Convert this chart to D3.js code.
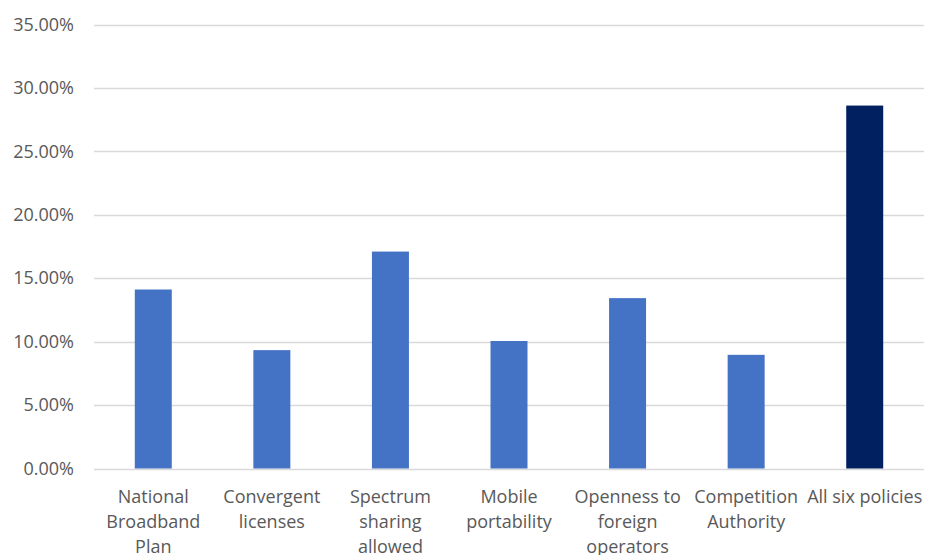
<!DOCTYPE html>
<html>
<head>
<meta charset="utf-8">
<script src="https://cdn.jsdelivr.net/npm/d3@7"></script>
<style>
  html, body { margin: 0; padding: 0; background: #fff; }
  svg text { font-family: "Open Sans", "Noto Sans", sans-serif; fill: #595959; }
</style>
</head>
<body>
<svg id="chart" width="926" height="555"></svg>
<script>
// Category names, with line breaks where the axis labels wrap
const categories = [
  "National\nBroadband\nPlan",
  "Convergent\nlicenses",
  "Spectrum\nsharing\nallowed",
  "Mobile\nportability",
  "Openness to\nforeign\noperators",
  "Competition\nAuthority",
  "All six policies"
];
// Share for each policy (percent)
const values = [14.11, 9.33, 17.10, 10.05, 13.43, 8.96, 28.61];
const barColors = ["#4472C4", "#4472C4", "#4472C4", "#4472C4", "#4472C4", "#4472C4", "#002060"];
const yTicks = [0, 5, 10, 15, 20, 25, 30, 35];

const svg = d3.select("#chart");
const margin = { left: 94, right: 2, top: 24.5, bottom: 86.5 };
const W = 926, H = 555;

const x = d3.scaleBand()
  .domain(categories)
  .range([margin.left, W - margin.right])
  .paddingInner(0.688)
  .paddingOuter(0.344);

const y = d3.scaleLinear()
  .domain([0, 35])
  .range([H - margin.bottom, margin.top]);

// Horizontal gridlines
svg.append("g")
  .selectAll("line")
  .data(yTicks)
  .join("line")
  .attr("x1", margin.left)
  .attr("x2", W - margin.right)
  .attr("y1", d => Math.round(y(d)) + 0.5)
  .attr("y2", d => Math.round(y(d)) + 0.5)
  .attr("stroke", "#d9d9d9")
  .attr("stroke-width", 1.3);

// Y axis labels
const yAxis = d3.axisLeft(y)
  .tickValues(yTicks)
  .tickFormat(d => d.toFixed(2) + "%")
  .tickSize(0)
  .tickPadding(20);
const gy = svg.append("g")
  .attr("transform", `translate(${margin.left},0)`)
  .call(yAxis);
gy.select(".domain").remove();
gy.selectAll("text")
  .attr("font-size", 18)
  .attr("font-family", null)
  .attr("fill", "#595959");

// Bars
svg.append("g")
  .selectAll("rect")
  .data(values)
  .join("rect")
  .attr("x", (d, i) => x(categories[i]))
  .attr("width", x.bandwidth())
  .attr("y", d => y(d))
  .attr("height", d => y(0) - y(d))
  .attr("fill", (d, i) => barColors[i]);

// X axis category labels
const gx = svg.append("g")
  .attr("transform", `translate(0,${y(0)})`)
  .call(d3.axisBottom(x).tickSize(0).tickFormat(""));
gx.select(".domain").remove();
gx.selectAll(".tick").each(function (d) {
  const lines = d.split("\n");
  const t = d3.select(this).append("text")
    .attr("text-anchor", "middle")
    .attr("font-size", 18)
    .attr("fill", "#595959");
  lines.forEach((ln, k) => {
    t.append("tspan")
      .attr("x", 0)
      .attr("y", 34.5 + k * 25)
      .text(ln);
  });
});
</script>
</body>
</html>
